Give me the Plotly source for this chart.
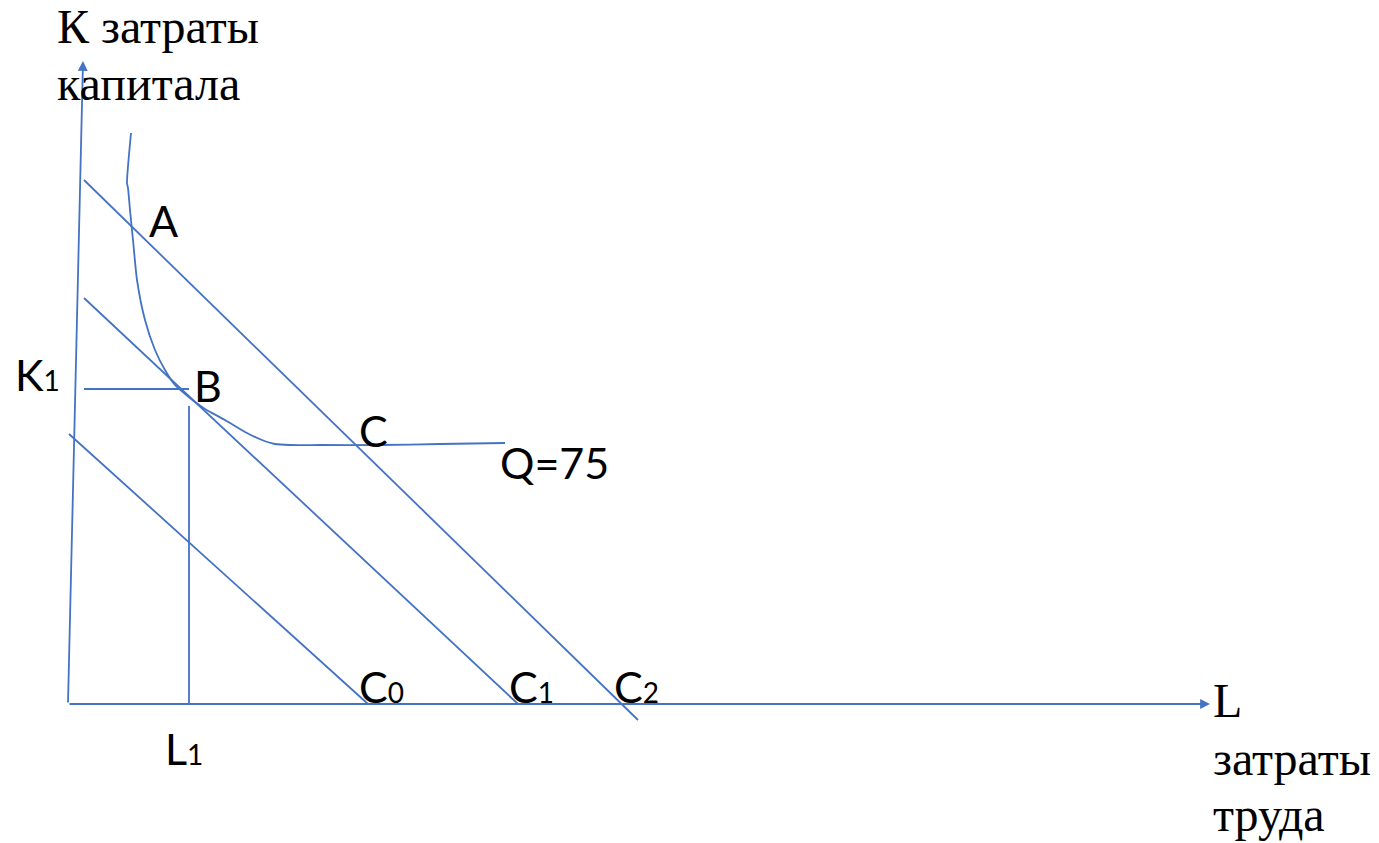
import plotly.graph_objects as go

# --- data (drawing coordinates) ---
y_axis_x = [68, 83]
y_axis_y = [704, 61]
x_axis_x = [68, 1210]
x_axis_y = [704, 704]

budget_names = ["C2", "C1", "C0"]
budget_x = [[84, 638], [84, 518], [69, 368]]
budget_y = [[180, 720], [298, 704], [434, 704]]

iso_x = [131, 127, 128, 130, 133, 137, 145, 155, 165, 175, 190, 205, 225, 245, 262, 275, 290, 320, 380, 440, 505]
iso_y = [133, 183, 188, 210, 240, 280, 320, 350, 370, 385, 398, 409, 420, 432, 440, 444, 445, 445, 445, 444, 443]

k1_x = [84, 189]
k1_y = [389, 389]
l1_x = [189, 189]
l1_y = [406, 704]

BLUE = "#4472C4"
SANS = "Lato, 'Noto Sans', sans-serif"
SERIF = "'Liberation Serif', 'Times New Roman', serif"

fig = go.Figure()
line_style = dict(color=BLUE, width=1.8)

for bx, by in zip(budget_x, budget_y):
    fig.add_trace(go.Scatter(x=bx, y=by, mode="lines", line=line_style, hoverinfo="skip"))
fig.add_trace(go.Scatter(x=iso_x, y=iso_y, mode="lines", line=dict(color=BLUE, width=1.8, shape="spline", smoothing=0.6), hoverinfo="skip"))
fig.add_trace(go.Scatter(x=k1_x, y=k1_y, mode="lines", line=line_style, hoverinfo="skip"))
fig.add_trace(go.Scatter(x=l1_x, y=l1_y, mode="lines", line=line_style, hoverinfo="skip"))

# axes with arrows
fig.add_annotation(x=y_axis_x[1], y=y_axis_y[1], ax=y_axis_x[0], ay=y_axis_y[0],
                   xref="x", yref="y", axref="x", ayref="y", text="",
                   showarrow=True, arrowhead=2, arrowsize=1.1, arrowwidth=1.8, arrowcolor=BLUE)
fig.add_annotation(x=x_axis_x[1], y=x_axis_y[1], ax=x_axis_x[0], ay=x_axis_y[0],
                   xref="x", yref="y", axref="x", ayref="y", text="",
                   showarrow=True, arrowhead=2, arrowsize=1.1, arrowwidth=1.8, arrowcolor=BLUE)

SUB = "<span style='font-size:28px'>{}</span>"
labels = [
    ("A", 147, 220, SANS, 43),
    ("K" + SUB.format("1"), 13, 374, SANS, 43),
    ("B", 192, 385, SANS, 43),
    ("C", 357, 430, SANS, 43),
    ("Q=75", 498, 462, SANS, 43),
    ("C" + SUB.format("0"), 357, 686, SANS, 43),
    ("C" + SUB.format("1"), 507, 686, SANS, 43),
    ("C" + SUB.format("2"), 612, 686, SANS, 43),
    ("L" + SUB.format("1"), 163, 748, SANS, 43),
    ("К затраты", 55, 26, SERIF, 48),
    ("капитала", 55, 83, SERIF, 48),
    ("L", 1211, 700, SERIF, 48),
    ("затраты", 1211, 758, SERIF, 48),
    ("труда", 1211, 814, SERIF, 48),
]
for t, x, y, fnt, sz in labels:
    fig.add_annotation(x=x, y=y, xref="x", yref="y", text=t, showarrow=False,
                       xanchor="left", yanchor="middle",
                       font=dict(family=fnt, size=sz, color="black"))

fig.update_layout(
    width=1379, height=843, margin=dict(l=0, r=0, t=0, b=0),
    paper_bgcolor="white", plot_bgcolor="white", showlegend=False,
    xaxis=dict(range=[0, 1379], visible=False, fixedrange=True),
    yaxis=dict(range=[843, 0], visible=False, fixedrange=True),
)
fig.write_html("out.html", config={"displayModeBar": False},
               post_script="document.body.style.margin='0px';document.body.style.overflow='hidden';")
